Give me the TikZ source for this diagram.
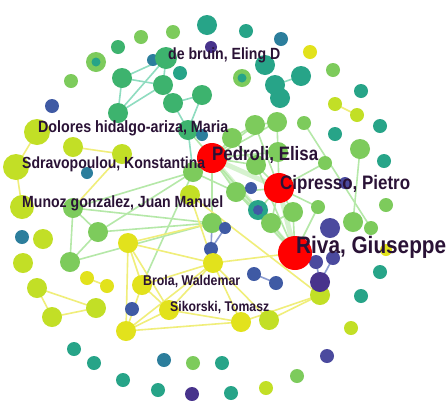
\documentclass[tikz,border=0pt]{standalone}
\usepackage{fontspec}
\usepackage{graphicx}
\setmainfont{Liberation Sans}
\definecolor{cY}{HTML}{E2E21C}
\definecolor{cYG}{HTML}{C2DF26}
\definecolor{cLG}{HTML}{7DCB5C}
\definecolor{cG}{HTML}{3DB36E}
\definecolor{cT}{HTML}{27A488}
\definecolor{cBT}{HTML}{2C7E9C}
\definecolor{cB}{HTML}{3F5AA4}
\definecolor{cBP}{HTML}{4B4A9E}
\definecolor{cDP}{HTML}{48338C}
\definecolor{cR}{HTML}{FF0000}
\definecolor{cTxt}{HTML}{2A1236}
\definecolor{eT}{HTML}{8FDCC0}
\definecolor{eY}{HTML}{F0EE7A}
\definecolor{eLG}{HTML}{B5E8A8}
\definecolor{eB}{HTML}{8C9CD0}
\tikzset{
  edgeT/.style={draw=eT,line width=1.6pt},
  edgeY/.style={draw=eY,line width=1.6pt},
  edgeLG/.style={draw=eLG,line width=1.6pt},
  edgeB/.style={draw=eB,line width=1.6pt},
  edgeWide/.style={draw=eLG,line width=5pt,opacity=0.55},
  lbl/.style={anchor=west,inner sep=0pt,text=cTxt,font=\bfseries}
}
\newcommand{\lbltext}[2]{\scalebox{1}[1.15]{\resizebox{#1}{!}{#2}}}
\def\nodelist{1/207/25/10/cT, 2/211/47/6/cDP, 3/173/32/7/cLG, 4/141/37/7/cLG, 5/118/47/7/cG,
 6/96/62/10/cLG, 7/153/60/6/cBT, 8/166/58/11/cG, 9/180/73/7/cT, 10/122/78/10/cG,
 11/163/85/10/cG, 12/71/81/7/cLG, 13/52/106/7/cB, 14/173/103/10/cG, 15/202/95/10/cG,
 16/118/113/10/cG, 17/188/130/10/cG, 18/202/135/6/cBT, 19/246/31/7/cT, 20/281/39/7/cBT,
 21/310/52/7/cY, 22/265/65/10/cT, 23/242/78/9/cLG, 24/301/76/10/cT, 25/275/85/10/cT,
 26/280/98/10/cT, 27/333/70/7/cLG, 28/361/91/7/cT, 29/335/104/7/cYG, 30/357/115/7/cYG,
 31/380/126/7/cT, 32/304/123/7/cLG, 33/335/134/7/cT, 34/360/149/10/cLG, 35/384/161/7/cT,
 36/325/163/7/cLG, 37/345/183/6/cBP, 38/277/122/10/cLG, 39/255/125/10/cLG, 40/232/138/10/cLG,
 41/278/152/10/cLG, 42/256/165/10/cLG, 43/236/192/10/cLG, 44/251/188/6/cB, 45/193/172/10/cLG,
 46/190/195/10/cYG, 47/258/210/10/cT, 48/293/212/10/cLG, 49/318/207/7/cLG, 50/271/223/10/cLG,
 51/212/223/10/cLG, 52/225/228/6/cB, 53/211/249/7/cB, 54/213/263/10/cY, 55/353/222/10/cLG,
 56/371/228/7/cLG, 57/386/205/7/cLG, 58/330/228/10/cBP, 59/316/262/7/cBP, 60/333/258/7/cBP,
 61/320/295/10/cYG, 62/320/282/10/cDP, 63/386/250/6/cY, 64/380/272/7/cT, 65/361/296/7/cT,
 66/254/274/7/cB, 67/276/283/7/cB, 68/241/322/10/cY, 69/269/320/10/cYG, 70/351/328/7/cYG,
 71/327/356/7/cBP, 72/297/376/7/cLG, 73/266/388/7/cYG, 74/231/393/7/cT, 75/222/363/7/cT,
 76/37/132/13/cYG, 77/73/147/10/cYG, 78/122/154/10/cYG, 79/16/167/13/cYG, 80/87/173/6/cBT,
 81/22/207/12/cYG, 82/73/208/10/cLG, 83/22/237/7/cBT, 84/43/239/10/cYG, 85/98/232/10/cLG,
 86/128/243/10/cY, 87/23/263/10/cYG, 88/70/262/10/cLG, 89/87/278/7/cY, 90/107/286/7/cY,
 91/142/285/10/cY, 92/37/288/10/cYG, 93/52/317/10/cYG, 94/96/308/10/cYG, 95/132/309/7/cB,
 96/169/310/10/cY, 97/126/331/10/cY, 98/74/349/7/cT, 99/94/363/7/cT, 100/123/380/7/cT,
 101/164/360/7/cBT, 102/193/363/7/cLG, 103/158/390/7/cT, 104/192/394/7/cDP,
 P/212/158/15/cR, C/279/188/15/cR, R/295/253/17/cR}
\begin{document}
\begin{tikzpicture}[x=1pt,y=-1pt]
\useasboundingbox (0,0) rectangle (447,400);
\fill[white] (0,0) rectangle (447,400);
\foreach \n/\x/\y/\r/\c in \nodelist { \coordinate (n\n) at (\x,\y); }
% wide pale bundles
\draw[edgeWide] (nP) -- (nR);
\draw[edgeWide] (nP) -- (nC);
\draw[edgeWide] (nC) -- (nR);
% teal edges
\foreach \a/\b in {8/10,8/16,10/11,10/16,11/16,11/14,14/15,14/17,15/17,8/11,25/24,17/45}
  \draw[edgeT] (n\a) -- (n\b);
% light green edges
\foreach \a/\b in {45/82,45/85,45/91,51/82,51/85,51/88,82/85,85/88,82/88,
  P/40,P/39,P/38,P/41,P/42,P/45,P/43,P/17,P/51,C/41,C/42,C/48,C/49,C/50,C/36,C/43,C/39,
  R/50,R/48,R/43,R/42,R/49,39/38,39/40,38/41,40/42,41/42,32/56,34/55,43/50,48/50,45/43,P/47,C/47}
  \draw[edgeLG] (n\a) -- (n\b);
% yellow edges
\foreach \a/\b in {76/79,79/81,77/78,78/82,86/91,86/96,86/97,86/54,91/96,91/54,96/54,96/97,
  96/68,97/68,97/54,91/97,54/68,89/90,54/69,69/61,46/61,46/54,51/86,29/30,92/93,92/94,93/94,
  68/61,R/54}
  \draw[edgeY] (n\a) -- (n\b);
% blue edges
\foreach \a/\b in {52/53,51/53,66/67,59/62,60/62}
  \draw[edgeB] (n\a) -- (n\b);
% nodes
\foreach \n/\x/\y/\r/\c in \nodelist { \fill[\c] (n\n) circle[radius=\r pt]; }
\fill[cT] (n6) circle[radius=4.5pt];
\fill[cT] (n23) circle[radius=4.5pt];
\fill[cB] (n47) circle[radius=5pt];
% labels
\node[lbl] (l1) at (168,55) {\lbltext{112pt}{de bruin, Eling D}};
\node[lbl] (l2) at (38,128) {\lbltext{190pt}{Dolores hidalgo-ariza, Maria}};
\node[lbl] (l3) at (22,164) {\lbltext{183pt}{Sdravopoulou, Konstantina}};
\node[lbl] (l4) at (22,203) {\lbltext{201pt}{Munoz gonzalez, Juan Manuel}};
\node[lbl] (l5) at (212,155) {\lbltext{106pt}{Pedroli, Elisa}};
\node[lbl] (l6) at (280,184) {\lbltext{130pt}{Cipresso, Pietro}};
\node[lbl] (l7) at (296,247) {\lbltext{150pt}{Riva, Giuseppe}};
\node[lbl] (l8) at (143,281) {\lbltext{97pt}{Brola, Waldemar}};
\node[lbl] (l9) at (170,307) {\lbltext{99pt}{Sikorski, Tomasz}};
\end{tikzpicture}
\end{document}
